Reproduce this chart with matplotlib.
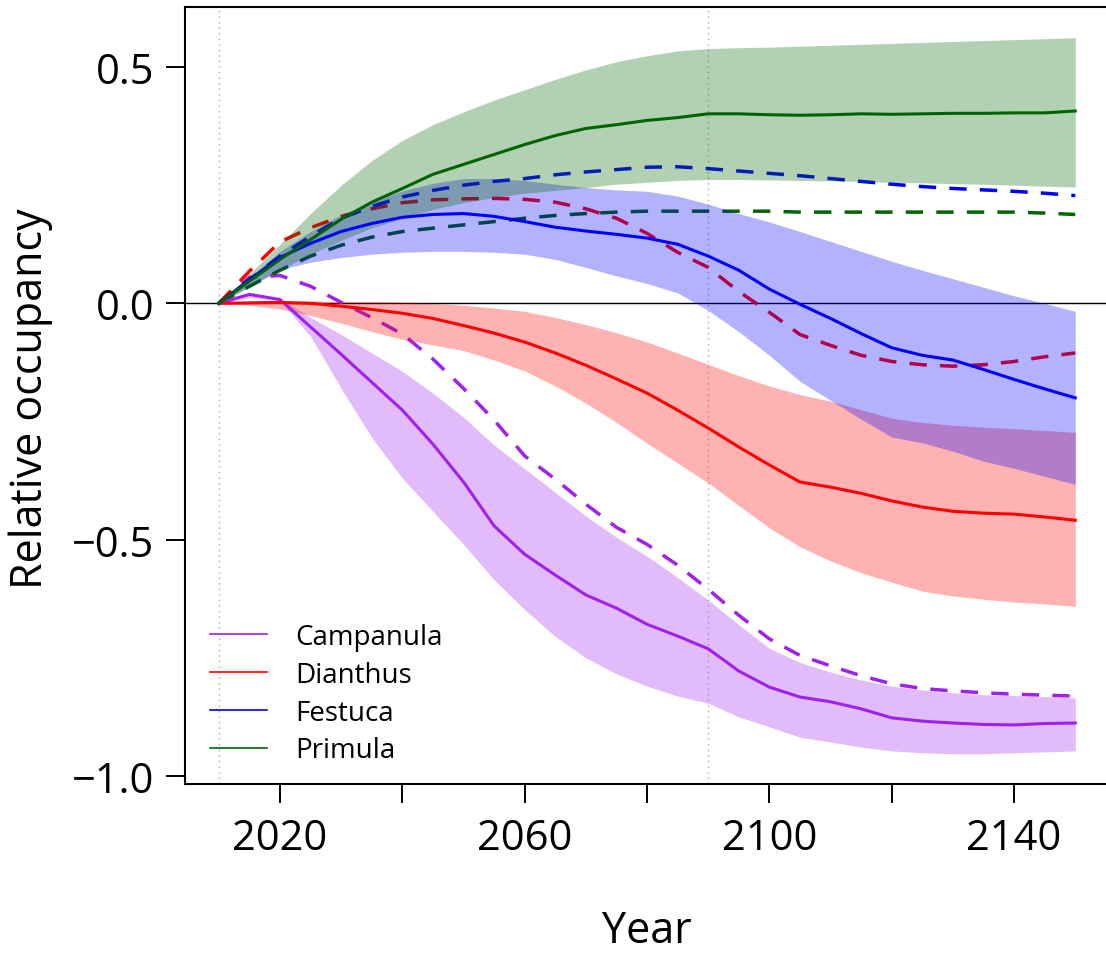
import numpy as np
import matplotlib.pyplot as plt

plt.rcParams['font.family'] = ['Open Sans', 'DejaVu Sans']

# simulation years (5-year steps)
years = np.arange(2010, 2151, 5)

species = ['Campanula', 'Dianthus', 'Festuca', 'Primula']
colors = ['#A020F0', '#FF0000', '#0000FF', '#006400']

# mean relative occupancy, scenario 1 (solid)
campanula_mean = [0, 0.019, 0.008, -0.05, -0.108, -0.167, -0.226, -0.298, -0.378, -0.471,
                  -0.531, -0.575, -0.617, -0.645, -0.679, -0.704, -0.731, -0.778, -0.812, -0.833,
                  -0.843, -0.858, -0.877, -0.884, -0.888, -0.891, -0.892, -0.889, -0.888]
dianthus_mean = [0, 0.001, 0.002, 0.0, -0.006, -0.013, -0.021, -0.032, -0.047, -0.063,
                 -0.082, -0.105, -0.131, -0.16, -0.19, -0.226, -0.264, -0.304, -0.342, -0.378,
                 -0.389, -0.402, -0.418, -0.431, -0.44, -0.444, -0.446, -0.452, -0.459]
festuca_mean = [0, 0.05, 0.097, 0.127, 0.152, 0.169, 0.182, 0.188, 0.19, 0.184,
                0.173, 0.161, 0.153, 0.146, 0.138, 0.125, 0.1, 0.07, 0.03, -0.002,
                -0.032, -0.064, -0.094, -0.11, -0.12, -0.14, -0.161, -0.181, -0.2]
primula_mean = [0, 0.047, 0.093, 0.135, 0.178, 0.214, 0.243, 0.273, 0.294, 0.315,
                0.336, 0.355, 0.37, 0.378, 0.387, 0.393, 0.401, 0.401, 0.399, 0.398,
                0.399, 0.401, 0.4, 0.401, 0.402, 0.402, 0.403, 0.403, 0.407]

# upper and lower envelope of the replicates
campanula_hi = [0, 0.02, 0.01, -0.03, -0.066, -0.105, -0.144, -0.19, -0.241, -0.3,
                -0.35, -0.4, -0.45, -0.495, -0.535, -0.58, -0.628, -0.68, -0.73, -0.76,
                -0.78, -0.797, -0.81, -0.818, -0.824, -0.828, -0.83, -0.832, -0.835]
campanula_lo = [0, 0.012, 0.006, -0.07, -0.18, -0.284, -0.37, -0.44, -0.51, -0.585,
                -0.648, -0.705, -0.75, -0.784, -0.81, -0.831, -0.846, -0.875, -0.896, -0.918,
                -0.928, -0.939, -0.947, -0.951, -0.953, -0.953, -0.951, -0.949, -0.947]
dianthus_hi = [0, 0.004, 0.005, 0.005, 0.004, 0.004, 0.003, 0.0, -0.004, -0.01,
               -0.017, -0.03, -0.045, -0.062, -0.082, -0.105, -0.129, -0.153, -0.175, -0.193,
               -0.207, -0.225, -0.243, -0.252, -0.258, -0.262, -0.265, -0.269, -0.273]
dianthus_lo = [0, -0.004, -0.012, -0.026, -0.042, -0.06, -0.076, -0.088, -0.1, -0.12,
               -0.143, -0.175, -0.211, -0.252, -0.296, -0.338, -0.38, -0.428, -0.475, -0.515,
               -0.545, -0.57, -0.59, -0.609, -0.619, -0.626, -0.632, -0.636, -0.641]
festuca_hi = [0, 0.055, 0.11, 0.152, 0.188, 0.214, 0.238, 0.254, 0.264, 0.264,
              0.26, 0.252, 0.245, 0.24, 0.237, 0.227, 0.21, 0.19, 0.172, 0.152,
              0.131, 0.11, 0.089, 0.07, 0.052, 0.034, 0.016, 0.0, -0.017]
festuca_lo = [0, 0.035, 0.072, 0.087, 0.097, 0.104, 0.108, 0.11, 0.11, 0.108,
              0.104, 0.093, 0.076, 0.058, 0.042, 0.022, -0.015, -0.06, -0.11, -0.165,
              -0.205, -0.245, -0.283, -0.295, -0.313, -0.334, -0.349, -0.366, -0.383]
primula_hi = [0, 0.062, 0.125, 0.19, 0.25, 0.302, 0.345, 0.378, 0.405, 0.43,
              0.452, 0.474, 0.494, 0.511, 0.524, 0.534, 0.539, 0.541, 0.542, 0.544,
              0.546, 0.548, 0.55, 0.552, 0.554, 0.556, 0.558, 0.56, 0.562]
primula_lo = [0, 0.036, 0.07, 0.104, 0.133, 0.16, 0.18, 0.199, 0.213, 0.224,
              0.233, 0.239, 0.245, 0.252, 0.256, 0.26, 0.262, 0.262, 0.261, 0.26,
              0.259, 0.258, 0.256, 0.255, 0.253, 0.252, 0.25, 0.248, 0.246]

# mean relative occupancy, scenario 2 (dashed)
campanula_alt = [0, 0.055, 0.059, 0.036, 0.002, -0.03, -0.065, -0.118, -0.18, -0.247,
                 -0.323, -0.372, -0.425, -0.474, -0.51, -0.554, -0.605, -0.66, -0.71, -0.745,
                 -0.767, -0.788, -0.805, -0.815, -0.82, -0.824, -0.827, -0.829, -0.831]
dianthus_alt = [0, 0.068, 0.13, 0.16, 0.184, 0.2, 0.213, 0.219, 0.221, 0.222,
                0.22, 0.214, 0.2, 0.18, 0.148, 0.108, 0.076, 0.025, -0.019, -0.066,
                -0.089, -0.11, -0.123, -0.13, -0.133, -0.13, -0.123, -0.113, -0.105]
festuca_alt = [0, 0.05, 0.1, 0.142, 0.18, 0.205, 0.225, 0.239, 0.25, 0.258,
               0.264, 0.272, 0.278, 0.283, 0.288, 0.289, 0.285, 0.28, 0.275, 0.27,
               0.264, 0.258, 0.252, 0.247, 0.243, 0.24, 0.237, 0.233, 0.228]
primula_alt = [0, 0.036, 0.07, 0.1, 0.123, 0.14, 0.152, 0.159, 0.166, 0.173,
               0.18, 0.186, 0.19, 0.193, 0.195, 0.195, 0.195, 0.195, 0.195, 0.193,
               0.193, 0.193, 0.193, 0.193, 0.193, 0.193, 0.193, 0.191, 0.188]

means = [campanula_mean, dianthus_mean, festuca_mean, primula_mean]
highs = [campanula_hi, dianthus_hi, festuca_hi, primula_hi]
lows = [campanula_lo, dianthus_lo, festuca_lo, primula_lo]
alts = [campanula_alt, dianthus_alt, festuca_alt, primula_alt]

fig = plt.figure(figsize=(11.06, 9.54), dpi=100)
ax = fig.add_axes([184.6 / 1106, 1 - 785 / 954, (1109.5 - 184.6) / 1106, (785 - 8) / 954])

# dashed lines go underneath the envelopes
for c, alt in zip(colors, alts):
    ax.plot(years, alt, color=c, lw=2.5, dashes=(5.0, 3.8), zorder=1)

for c, lo, hi in zip(colors, lows, highs):
    ax.fill_between(years, lo, hi, color=c, alpha=0.3, lw=0, zorder=2)

for c, m in zip(colors, means):
    ax.plot(years, m, color=c, lw=2.2, zorder=3)

ax.axhline(0, color='black', lw=1.0, zorder=0.5)
for yr in (2010, 2090):
    ax.axvline(yr, color='#aaaaaa', lw=1.0, ls=(0, (1, 3)), zorder=0.4)

ax.set_xlim(2004.4, 2155.6)
ax.set_ylim(-1.017, 0.627)

ax.set_xticks([2020, 2040, 2060, 2080, 2100, 2120, 2140])
ax.set_xticklabels(['2020', '', '2060', '', '2100', '', '2140'])
ax.set_yticks([-1.0, -0.5, 0.0, 0.5])
ax.set_yticklabels(['\u22121.0', '\u22120.5', '0.0', '0.5'])
ax.tick_params(direction='out', length=14, width=1.4, labelsize=30)
ax.tick_params(axis='x', pad=10)
ax.tick_params(axis='y', pad=8)
ax.spines['right'].set_visible(False)
for sp in ax.spines.values():
    sp.set_linewidth(1.5)

fig.text(31 / 1106, 1 - 399 / 954, 'Relative occupancy', rotation=90,
         ha='center', va='center', fontsize=31,
         family=['Liberation Sans Narrow', 'Open Sans'])
fig.text(647 / 1106, 1 - 932 / 954, 'Year', ha='center', va='center', fontsize=31)

leg_lines = [plt.Line2D([], [], color=c, lw=1.2) for c in colors]
ax.legend(leg_lines, species, loc='upper left', bbox_to_anchor=(0.028, 0.207),
          frameon=False, fontsize=20, handlelength=2.05, handletextpad=1.0,
          labelspacing=0.35, borderpad=0, borderaxespad=0)

fig.savefig('out.png', dpi=100)
